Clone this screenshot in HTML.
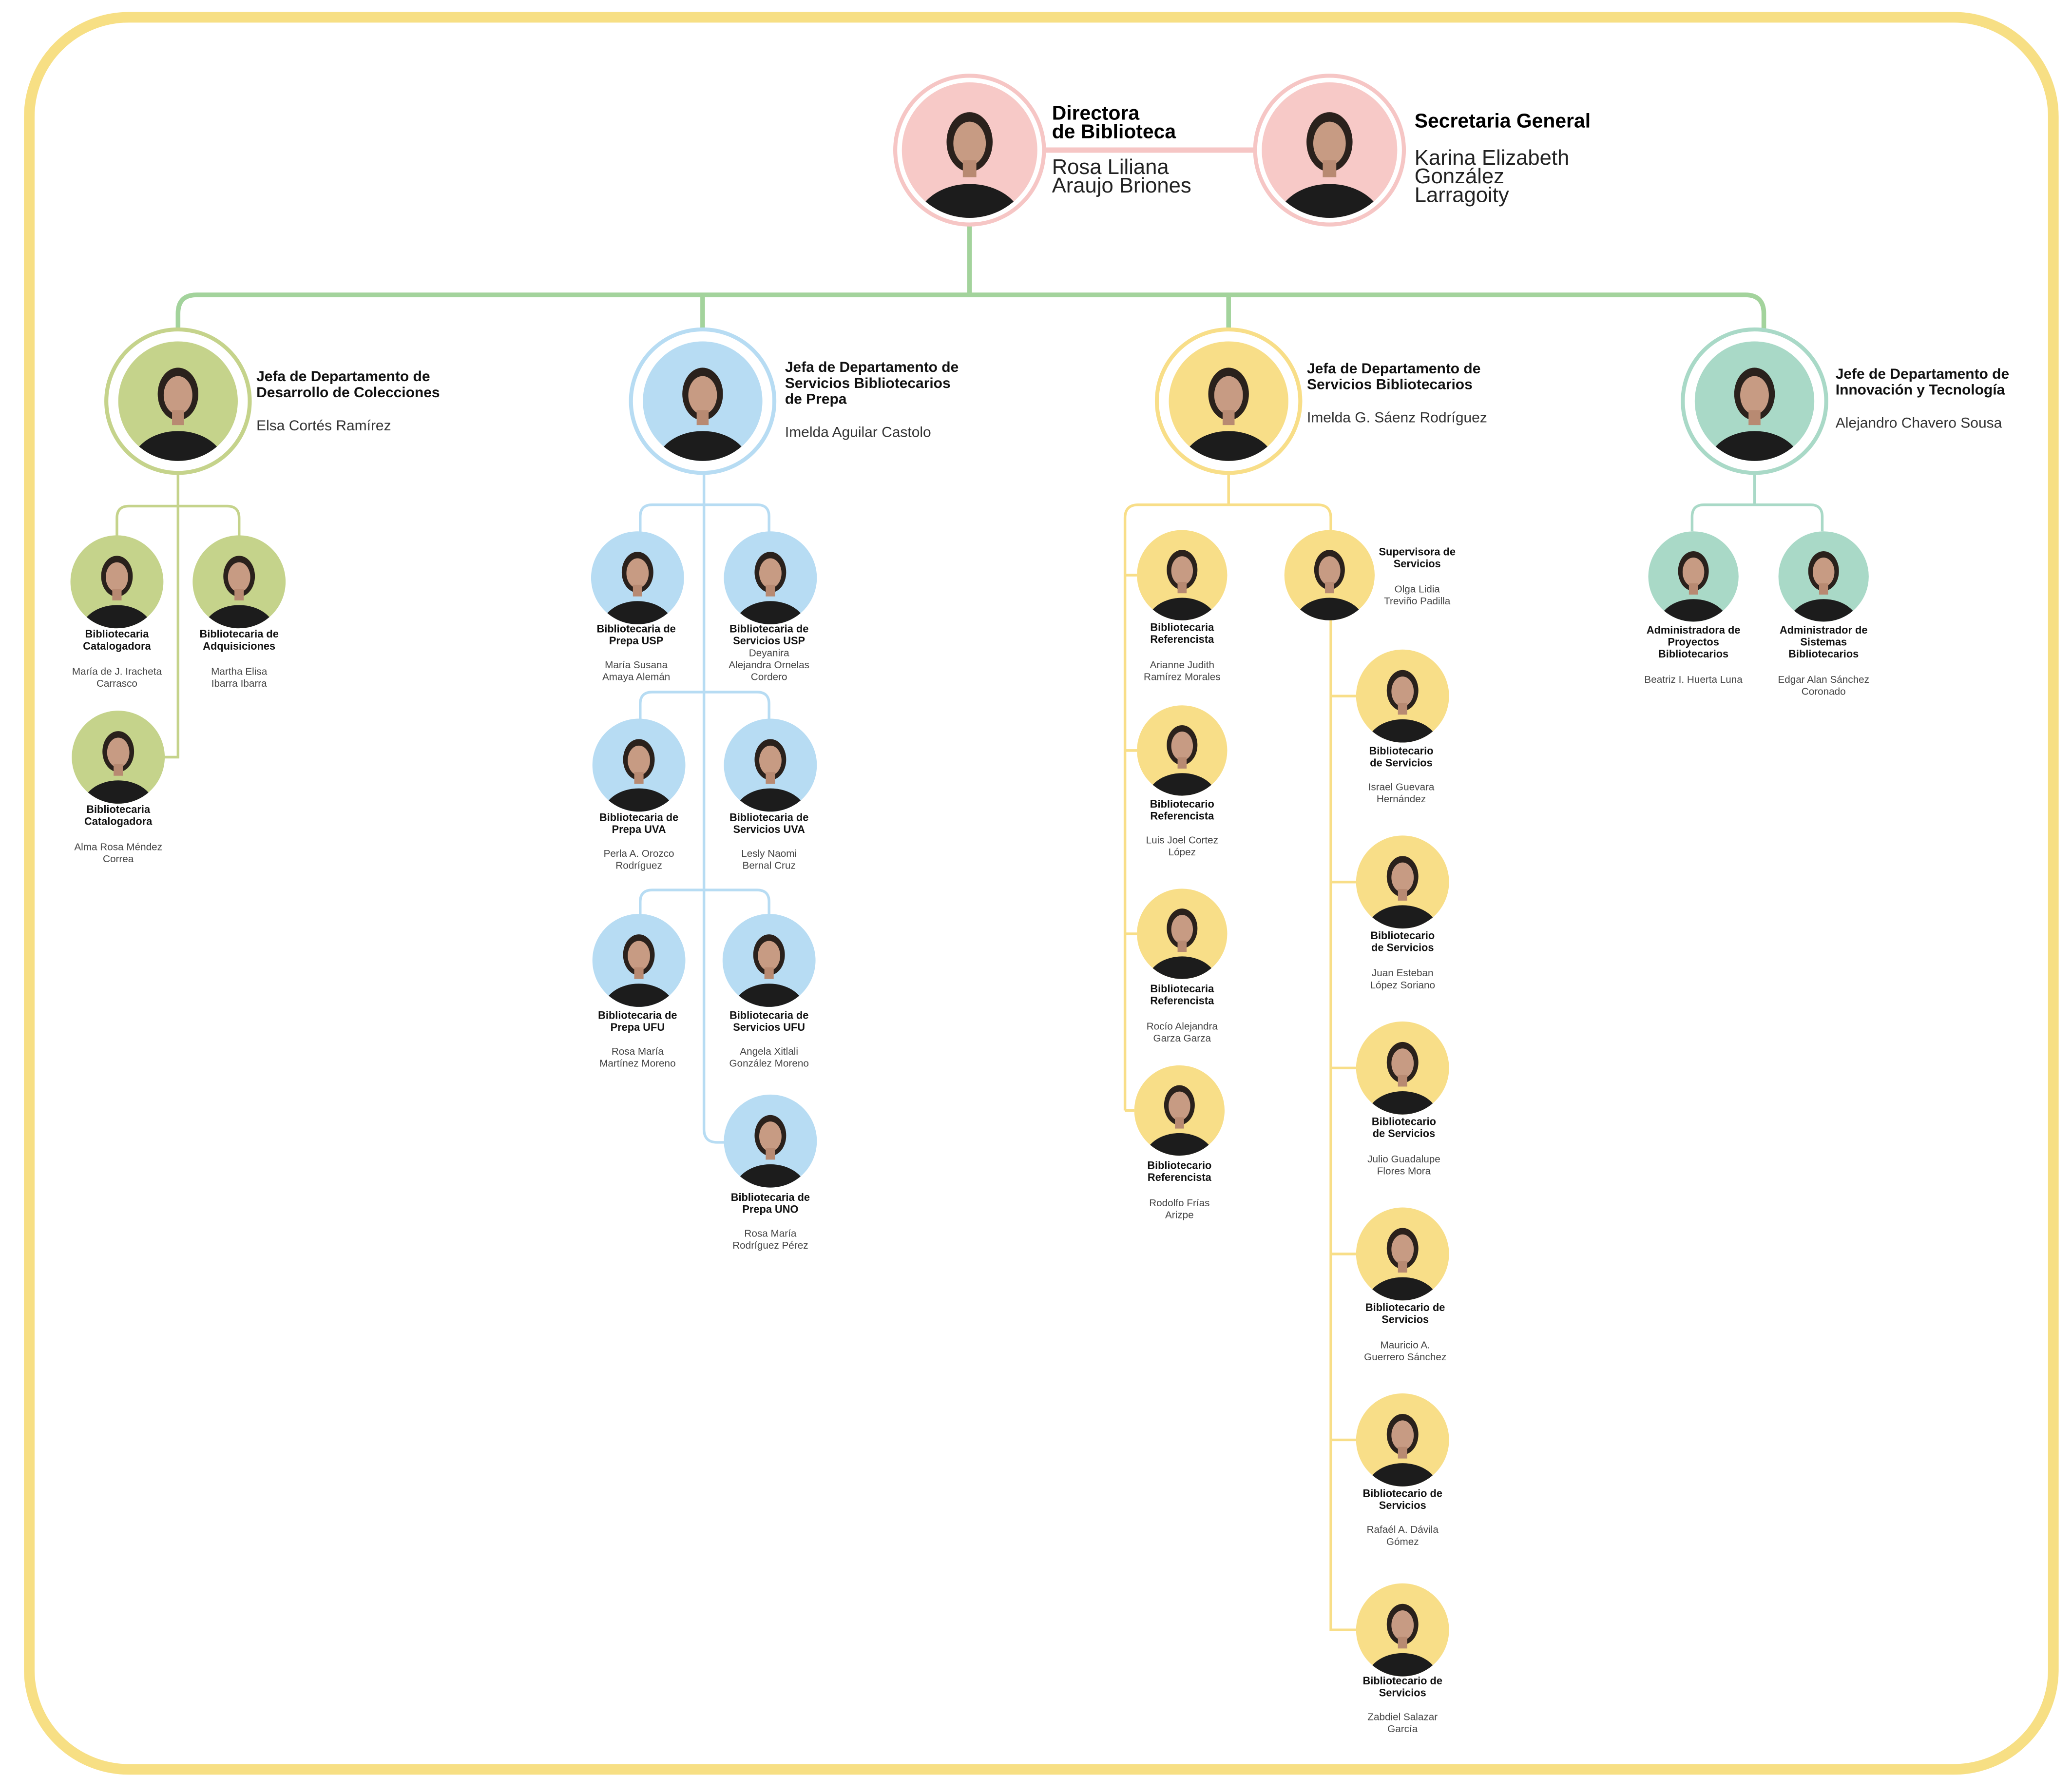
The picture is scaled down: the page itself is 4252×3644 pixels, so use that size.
<!DOCTYPE html>
<html><head><meta charset="utf-8"><style>
html,body{margin:0;padding:0;background:#fff;}
svg{display:block}
text{font-family:"Liberation Sans",sans-serif;}
.t{font-weight:bold;font-size:8px;fill:#111;text-anchor:middle}
.n{font-size:7.6px;fill:#444;text-anchor:middle}
.ht{font-weight:bold;font-size:11px;fill:#111}
.hn{font-size:11px;fill:#333}
</style></head><body>
<svg width="4252" height="3644" viewBox="0 0 1560 1337" xmlns="http://www.w3.org/2000/svg">
<defs>
<clipPath id="cc"><circle cx="0" cy="0" r="1"/></clipPath>
<symbol id="p" viewBox="-1 -1 2 2">
<g clip-path="url(#cc)">
<ellipse cx="0" cy="1.08" rx="0.78" ry="0.58" fill="#1c1c1c"/>
<ellipse cx="0" cy="-0.12" rx="0.34" ry="0.44" fill="#2a211c"/>
<ellipse cx="0" cy="-0.1" rx="0.24" ry="0.32" fill="#c79b83"/>
<rect x="-0.1" y="0.15" width="0.2" height="0.25" fill="#b88a72"/>
</g>
</symbol>
</defs>
<rect x="22" y="13" width="1524" height="1319" rx="75" ry="75" fill="#fff" stroke="#f7df84" stroke-width="8"/>

<!-- top -->
<line x1="780" y1="113" x2="950" y2="113" stroke="#f6c6c5" stroke-width="4"/>
<path d="M730 168 V222" stroke="#a3d39c" stroke-width="3.5" fill="none"/>
<path d="M134 250 V236 Q134 222 148 222 H1314 Q1328 222 1328 236 V250" stroke="#a3d39c" stroke-width="3.5" fill="none"/>
<path d="M529 222 V250 M925 222 V250" stroke="#a3d39c" stroke-width="3.5" fill="none"/>

<circle cx="730" cy="113" r="56" fill="#fff" stroke="#f6c6c5" stroke-width="3"/>
<circle cx="730" cy="113" r="51" fill="#f7c9c7"/>
<use href="#p" x="679" y="62" width="102" height="102"/>
<circle cx="1001" cy="113" r="56" fill="#fff" stroke="#f6c6c5" stroke-width="3"/>
<circle cx="1001" cy="113" r="51" fill="#f7c9c7"/>
<use href="#p" x="950" y="62" width="102" height="102"/>
<text x="792" y="90" style="font-weight:bold;font-size:15px">Directora</text>
<text x="792" y="104" style="font-weight:bold;font-size:15px">de Biblioteca</text>
<text x="792" y="131" style="font-size:16px;fill:#222">Rosa Liliana</text>
<text x="792" y="145" style="font-size:16px;fill:#222">Araujo Briones</text>
<text x="1065" y="96" style="font-weight:bold;font-size:15px">Secretaria General</text>
<text x="1065" y="124" style="font-size:16px;fill:#222">Karina Elizabeth</text>
<text x="1065" y="138" style="font-size:16px;fill:#222">González</text>
<text x="1065" y="152" style="font-size:16px;fill:#222">Larragoity</text>

<!-- dept heads -->
<circle cx="134" cy="302" r="54" fill="#fff" stroke="#c5d38b" stroke-width="3"/>
<circle cx="134" cy="302" r="45" fill="#c5d38b"/><use href="#p" x="89" y="257" width="90" height="90"/>
<circle cx="529" cy="302" r="54" fill="#fff" stroke="#b7dcf3" stroke-width="3"/>
<circle cx="529" cy="302" r="45" fill="#b7dcf3"/><use href="#p" x="484" y="257" width="90" height="90"/>
<circle cx="925" cy="302" r="54" fill="#fff" stroke="#f8de88" stroke-width="3"/>
<circle cx="925" cy="302" r="45" fill="#f8de88"/><use href="#p" x="880" y="257" width="90" height="90"/>
<circle cx="1321" cy="302" r="54" fill="#fff" stroke="#a9d9c7" stroke-width="3"/>
<circle cx="1321" cy="302" r="45" fill="#a9d9c7"/><use href="#p" x="1276" y="257" width="90" height="90"/>

<text class="ht" x="193" y="287">Jefa de Departamento de</text>
<text class="ht" x="193" y="299">Desarrollo de Colecciones</text>
<text class="hn" x="193" y="324">Elsa Cortés Ramírez</text>
<text class="ht" x="591" y="280">Jefa de Departamento de</text>
<text class="ht" x="591" y="292">Servicios Bibliotecarios</text>
<text class="ht" x="591" y="304">de Prepa</text>
<text class="hn" x="591" y="329">Imelda  Aguilar Castolo</text>
<text class="ht" x="984" y="281">Jefa de Departamento de</text>
<text class="ht" x="984" y="293">Servicios Bibliotecarios</text>
<text class="hn" x="984" y="318">Imelda G. Sáenz Rodríguez</text>
<text class="ht" x="1382" y="285">Jefe de Departamento de</text>
<text class="ht" x="1382" y="297">Innovación y Tecnología</text>
<text class="hn" x="1382" y="322">Alejandro Chavero Sousa</text>

<!-- green subtree -->
<g stroke="#c5d38b" stroke-width="2" fill="none">
<path d="M88 405 V390 Q88 381 97 381 H171 Q180 381 180 390 V405"/>
<path d="M134 357 V570 H122"/>
</g>
<g>
<circle cx="88" cy="438" r="35" fill="#c5d38b"/><use href="#p" x="53" y="403" width="70" height="70"/>
<circle cx="180" cy="438" r="35" fill="#c5d38b"/><use href="#p" x="145" y="403" width="70" height="70"/>
<circle cx="89" cy="570" r="35" fill="#c5d38b"/><use href="#p" x="54" y="535" width="70" height="70"/>
</g>
<text class="t" x="88" y="480">Bibliotecaria</text><text class="t" x="88" y="489">Catalogadora</text>
<text class="n" x="88" y="508">María de J. Iracheta</text><text class="n" x="88" y="517">Carrasco</text>
<text class="t" x="180" y="480">Bibliotecaria de</text><text class="t" x="180" y="489">Adquisiciones</text>
<text class="n" x="180" y="508">Martha Elisa</text><text class="n" x="180" y="517">Ibarra Ibarra</text>
<text class="t" x="89" y="612">Bibliotecaria</text><text class="t" x="89" y="621">Catalogadora</text>
<text class="n" x="89" y="640">Alma Rosa Méndez</text><text class="n" x="89" y="649">Correa</text>

<!-- blue subtree -->
<g stroke="#b7dcf3" stroke-width="2" fill="none">
<path d="M530 357 V850 Q530 860 540 860 H547"/>
<path d="M482 402 V389 Q482 380 491 380 H570 Q579 380 579 389 V402"/>
<path d="M482 543 V530 Q482 521 491 521 H570 Q579 521 579 530 V543"/>
<path d="M482 690 V679 Q482 670 491 670 H570 Q579 670 579 679 V690"/>
</g>
<circle cx="480" cy="435" r="35" fill="#b7dcf3"/><use href="#p" x="445" y="400" width="70" height="70"/>
<circle cx="580" cy="435" r="35" fill="#b7dcf3"/><use href="#p" x="545" y="400" width="70" height="70"/>
<circle cx="481" cy="576" r="35" fill="#b7dcf3"/><use href="#p" x="446" y="541" width="70" height="70"/>
<circle cx="580" cy="576" r="35" fill="#b7dcf3"/><use href="#p" x="545" y="541" width="70" height="70"/>
<circle cx="481" cy="723" r="35" fill="#b7dcf3"/><use href="#p" x="446" y="688" width="70" height="70"/>
<circle cx="579" cy="723" r="35" fill="#b7dcf3"/><use href="#p" x="544" y="688" width="70" height="70"/>
<circle cx="580" cy="859" r="35" fill="#b7dcf3"/><use href="#p" x="545" y="824" width="70" height="70"/>
<text class="t" x="479" y="476">Bibliotecaria de</text><text class="t" x="479" y="485">Prepa USP</text>
<text class="n" x="479" y="503">María Susana</text><text class="n" x="479" y="512">Amaya Alemán</text>
<text class="t" x="579" y="476">Bibliotecaria de</text><text class="t" x="579" y="485">Servicios USP</text>
<text class="n" x="579" y="494">Deyanira</text><text class="n" x="579" y="503">Alejandra Ornelas</text><text class="n" x="579" y="512">Cordero</text>
<text class="t" x="481" y="618">Bibliotecaria de</text><text class="t" x="481" y="627">Prepa UVA</text>
<text class="n" x="481" y="645">Perla A. Orozco</text><text class="n" x="481" y="654">Rodríguez</text>
<text class="t" x="579" y="618">Bibliotecaria de</text><text class="t" x="579" y="627">Servicios UVA</text>
<text class="n" x="579" y="645">Lesly Naomi</text><text class="n" x="579" y="654">Bernal Cruz</text>
<text class="t" x="480" y="767">Bibliotecaria de</text><text class="t" x="480" y="776">Prepa UFU</text>
<text class="n" x="480" y="794">Rosa María</text><text class="n" x="480" y="803">Martínez Moreno</text>
<text class="t" x="579" y="767">Bibliotecaria de</text><text class="t" x="579" y="776">Servicios UFU</text>
<text class="n" x="579" y="794">Angela Xitlali</text><text class="n" x="579" y="803">González Moreno</text>
<text class="t" x="580" y="904">Bibliotecaria de</text><text class="t" x="580" y="913">Prepa UNO</text>
<text class="n" x="580" y="931">Rosa María</text><text class="n" x="580" y="940">Rodríguez Pérez</text>

<!-- yellow subtree -->
<g stroke="#f8de88" stroke-width="2" fill="none">
<path d="M925 357 V380"/>
<path d="M847 836 V390 Q847 380 857 380 H992 Q1002 380 1002 390 V1227 H1022"/>
<path d="M847 433 H856 M847 565 H856 M847 703 H856 M847 836 H854"/>
<path d="M1002 524 H1022 M1002 664 H1022 M1002 804 H1022 M1002 944 H1022 M1002 1084 H1022"/>
</g>
<circle cx="890" cy="433" r="34" fill="#f8de88"/><use href="#p" x="856" y="399" width="68" height="68"/>
<circle cx="890" cy="565" r="34" fill="#f8de88"/><use href="#p" x="856" y="531" width="68" height="68"/>
<circle cx="890" cy="703" r="34" fill="#f8de88"/><use href="#p" x="856" y="669" width="68" height="68"/>
<circle cx="888" cy="836" r="34" fill="#f8de88"/><use href="#p" x="854" y="802" width="68" height="68"/>
<circle cx="1001" cy="433" r="34" fill="#f8de88"/><use href="#p" x="967" y="399" width="68" height="68"/>
<circle cx="1056" cy="524" r="35" fill="#f8de88"/><use href="#p" x="1021" y="489" width="70" height="70"/>
<circle cx="1056" cy="664" r="35" fill="#f8de88"/><use href="#p" x="1021" y="629" width="70" height="70"/>
<circle cx="1056" cy="804" r="35" fill="#f8de88"/><use href="#p" x="1021" y="769" width="70" height="70"/>
<circle cx="1056" cy="944" r="35" fill="#f8de88"/><use href="#p" x="1021" y="909" width="70" height="70"/>
<circle cx="1056" cy="1084" r="35" fill="#f8de88"/><use href="#p" x="1021" y="1049" width="70" height="70"/>
<circle cx="1056" cy="1227" r="35" fill="#f8de88"/><use href="#p" x="1021" y="1192" width="70" height="70"/>
<text class="t" x="890" y="475">Bibliotecaria</text><text class="t" x="890" y="484">Referencista</text>
<text class="n" x="890" y="503">Arianne Judith</text><text class="n" x="890" y="512">Ramírez Morales</text>
<text class="t" x="890" y="608">Bibliotecario</text><text class="t" x="890" y="617">Referencista</text>
<text class="n" x="890" y="635">Luis Joel Cortez</text><text class="n" x="890" y="644">López</text>
<text class="t" x="890" y="747">Bibliotecaria</text><text class="t" x="890" y="756">Referencista</text>
<text class="n" x="890" y="775">Rocío Alejandra</text><text class="n" x="890" y="784">Garza Garza</text>
<text class="t" x="888" y="880">Bibliotecario</text><text class="t" x="888" y="889">Referencista</text>
<text class="n" x="888" y="908">Rodolfo Frías</text><text class="n" x="888" y="917">Arizpe</text>
<text class="t" x="1067" y="418">Supervisora de</text><text class="t" x="1067" y="427">Servicios</text>
<text class="n" x="1067" y="446">Olga Lidia</text><text class="n" x="1067" y="455">Treviño Padilla</text>
<text class="t" x="1055" y="568">Bibliotecario</text><text class="t" x="1055" y="577">de Servicios</text>
<text class="n" x="1055" y="595">Israel Guevara</text><text class="n" x="1055" y="604">Hernández</text>
<text class="t" x="1056" y="707">Bibliotecario</text><text class="t" x="1056" y="716">de Servicios</text>
<text class="n" x="1056" y="735">Juan Esteban</text><text class="n" x="1056" y="744">López Soriano</text>
<text class="t" x="1057" y="847">Bibliotecario</text><text class="t" x="1057" y="856">de Servicios</text>
<text class="n" x="1057" y="875">Julio Guadalupe</text><text class="n" x="1057" y="884">Flores Mora</text>
<text class="t" x="1058" y="987">Bibliotecario de</text><text class="t" x="1058" y="996">Servicios</text>
<text class="n" x="1058" y="1015">Mauricio A.</text><text class="n" x="1058" y="1024">Guerrero Sánchez</text>
<text class="t" x="1056" y="1127">Bibliotecario de</text><text class="t" x="1056" y="1136">Servicios</text>
<text class="n" x="1056" y="1154">Rafaél A. Dávila</text><text class="n" x="1056" y="1163">Gómez</text>
<text class="t" x="1056" y="1268">Bibliotecario de</text><text class="t" x="1056" y="1277">Servicios</text>
<text class="n" x="1056" y="1295">Zabdiel Salazar</text><text class="n" x="1056" y="1304">García</text>

<!-- teal subtree -->
<g stroke="#a9d9c7" stroke-width="2" fill="none">
<path d="M1321 357 V380"/>
<path d="M1274 400 V389 Q1274 380 1283 380 H1363 Q1372 380 1372 389 V400"/>
</g>
<circle cx="1275" cy="434" r="34" fill="#a9d9c7"/><use href="#p" x="1241" y="400" width="68" height="68"/>
<circle cx="1373" cy="434" r="34" fill="#a9d9c7"/><use href="#p" x="1339" y="400" width="68" height="68"/>
<text class="t" x="1275" y="477">Administradora de</text><text class="t" x="1275" y="486">Proyectos</text><text class="t" x="1275" y="495">Bibliotecarios</text>
<text class="n" x="1275" y="514">Beatriz I. Huerta Luna</text>
<text class="t" x="1373" y="477">Administrador de</text><text class="t" x="1373" y="486">Sistemas</text><text class="t" x="1373" y="495">Bibliotecarios</text>
<text class="n" x="1373" y="514">Edgar Alan Sánchez</text><text class="n" x="1373" y="523">Coronado</text>
</svg>
</body></html>
